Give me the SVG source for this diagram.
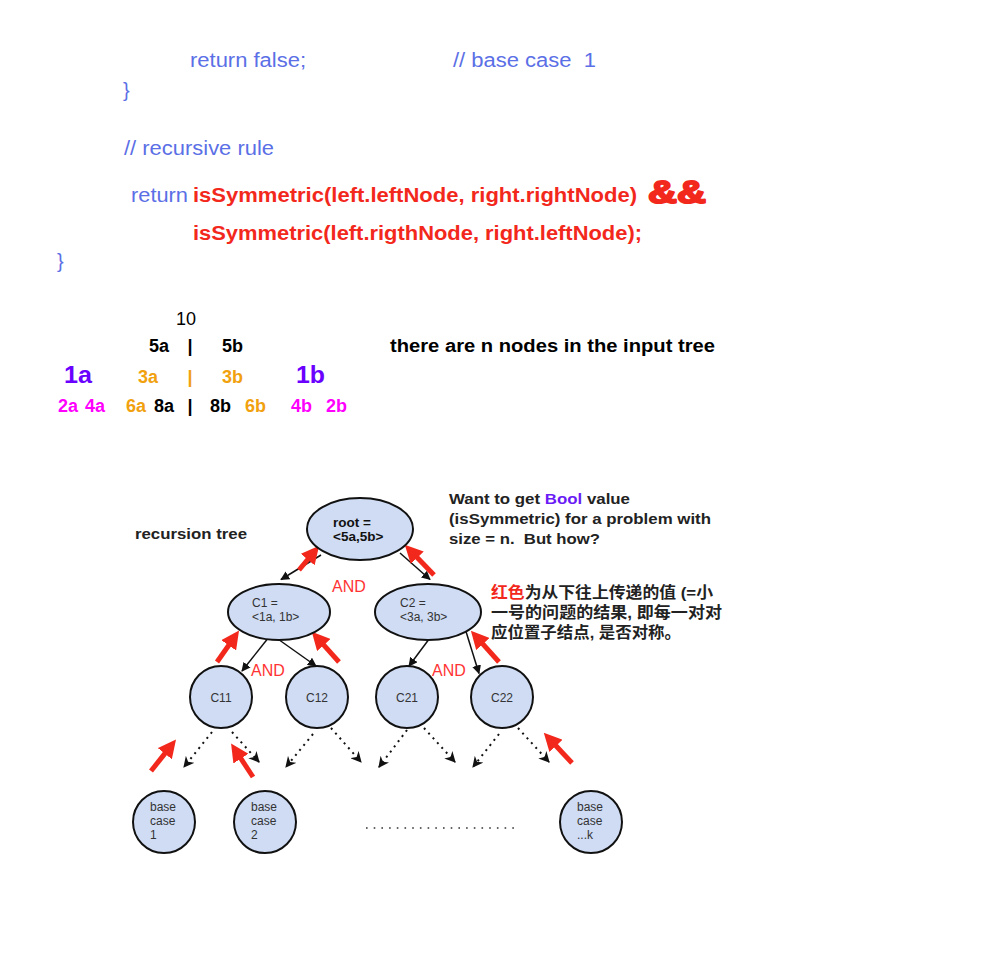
<svg xmlns="http://www.w3.org/2000/svg" width="989" height="956" viewBox="0 0 989 956">
<style>
text{font-family:"Liberation Sans",Arial,"Noto Sans CJK SC",sans-serif}
.code{fill:#5b6fe6;font-size:20px}
.red{fill:#f3281c;font-weight:bold;font-size:20px}
.b{font-weight:bold}
.node{fill:#cfdcf3;stroke:#111;stroke-width:2}
.nt{fill:#333;font-size:12px}
.and{fill:#f33;font-size:16px}
.conn{stroke:#111;stroke-width:1.5;fill:none}
.dot{stroke:#111;stroke-width:2;fill:none;stroke-dasharray:2 4.5}
.ra{stroke:#f3281c;stroke-width:5;fill:none}
</style>
<defs>
<marker id="ah" viewBox="0 0 10 10" refX="9" refY="5" markerWidth="9" markerHeight="9" markerUnits="userSpaceOnUse" orient="auto"><path d="M0,0 L10,5 L0,10 z" fill="#111"/></marker>
<marker id="ahd" viewBox="0 0 10 10" refX="9" refY="5" markerWidth="11" markerHeight="11" markerUnits="userSpaceOnUse" orient="auto"><path d="M0,0 L10,5 L0,10 L3,5 z" fill="#111"/></marker>
<marker id="rh" viewBox="0 0 16 16" refX="2" refY="8" markerWidth="18" markerHeight="18" markerUnits="userSpaceOnUse" orient="auto"><path d="M0,0 L16,8 L0,16 z" fill="#f3281c"/></marker>
</defs>
<rect width="989" height="956" fill="#fff"/>

<g id="code">
<text class="code" x="190" y="67" textLength="116" lengthAdjust="spacingAndGlyphs">return false;</text>
<text class="code" x="453" y="67" xml:space="preserve" textLength="143" lengthAdjust="spacingAndGlyphs">// base case  1</text>
<text class="code" x="123" y="97" font-size="22">}</text>
<text class="code" x="124" y="155" textLength="150" lengthAdjust="spacingAndGlyphs">// recursive rule</text>
<text class="code" x="131" y="202" textLength="57" lengthAdjust="spacingAndGlyphs">return</text>
<text class="red" x="193" y="202" textLength="444" lengthAdjust="spacingAndGlyphs">isSymmetric(left.leftNode, right.rightNode)</text>
<text class="red" x="648" y="203" style="font-size:32px" stroke="#f3281c" stroke-width="2" stroke-linejoin="round" textLength="58" lengthAdjust="spacingAndGlyphs">&amp;&amp;</text>
<text class="red" x="193" y="240" textLength="449" lengthAdjust="spacingAndGlyphs">isSymmetric(left.rigthNode, right.leftNode);</text>
<text class="code" x="57" y="268" font-size="22">}</text>
</g>

<g id="levels">
<text x="176" y="325" font-size="18" fill="#000">10</text>
<text class="b" x="149" y="352" font-size="18" fill="#000">5a</text>
<text class="b" x="190" y="352" font-size="18" fill="#000" text-anchor="middle">|</text>
<text class="b" x="222" y="352" font-size="18" fill="#000">5b</text>
<text class="b" x="390" y="352" font-size="18" fill="#000" textLength="325" lengthAdjust="spacingAndGlyphs">there are n nodes in the input tree</text>
<text class="b" x="64" y="383" font-size="23" fill="#6a00ff" textLength="28" lengthAdjust="spacingAndGlyphs">1a</text>
<text class="b" x="138" y="383" font-size="18" fill="#f1a10e">3a</text>
<text class="b" x="190" y="383" font-size="18" fill="#f1a10e" text-anchor="middle">|</text>
<text class="b" x="222" y="383" font-size="18" fill="#f1a10e">3b</text>
<text class="b" x="296" y="383" font-size="23" fill="#6a00ff" textLength="29" lengthAdjust="spacingAndGlyphs">1b</text>
<text class="b" x="58" y="412" font-size="18" fill="#ff00ff">2a</text>
<text class="b" x="85" y="412" font-size="18" fill="#ff00ff">4a</text>
<text class="b" x="126" y="412" font-size="18" fill="#f1a10e">6a</text>
<text class="b" x="154" y="412" font-size="18" fill="#000">8a</text>
<text class="b" x="190" y="412" font-size="18" fill="#000" text-anchor="middle">|</text>
<text class="b" x="210" y="412" font-size="18" fill="#000">8b</text>
<text class="b" x="245" y="412" font-size="18" fill="#f1a10e">6b</text>
<text class="b" x="291" y="412" font-size="18" fill="#ff00ff">4b</text>
<text class="b" x="326" y="412" font-size="18" fill="#ff00ff">2b</text>
</g>

<g id="notes">
<text class="b" x="135" y="539" font-size="15.5" fill="#222" textLength="112" lengthAdjust="spacingAndGlyphs">recursion tree</text>
<text class="b" x="449" y="504" font-size="15.5" fill="#222" textLength="181" lengthAdjust="spacingAndGlyphs">Want to get <tspan fill="#6a1bf5">Bool</tspan> value</text>
<text class="b" x="449" y="524" font-size="15.5" fill="#222" textLength="262" lengthAdjust="spacingAndGlyphs">(isSymmetric) for a problem with</text>
<text class="b" x="449" y="544" font-size="15.5" fill="#222" xml:space="preserve" textLength="151" lengthAdjust="spacingAndGlyphs">size = n.  But how?</text>
<text class="b" x="491" y="598" font-size="15.5" fill="#222" textLength="222" lengthAdjust="spacingAndGlyphs"><tspan fill="#f3281c">红色</tspan>为从下往上传递的值 (=小</text>
<text class="b" x="491" y="618" font-size="15.5" fill="#222" textLength="231" lengthAdjust="spacingAndGlyphs">一号的问题的结果, 即每一对对</text>
<text class="b" x="491" y="638" font-size="15.5" fill="#222" textLength="190" lengthAdjust="spacingAndGlyphs">应位置子结点, 是否对称。</text>
<text class="and" x="332" y="592">AND</text>
<text class="and" x="251" y="676">AND</text>
<text class="and" x="432" y="676">AND</text>
</g>

<g id="connectors">
<line class="conn" x1="321" y1="555" x2="281" y2="579.5" marker-end="url(#ah)"/>
<line class="conn" x1="400" y1="553" x2="430" y2="579.5" marker-end="url(#ah)"/>
<line class="conn" x1="269" y1="637" x2="242" y2="671" marker-end="url(#ah)"/>
<line class="conn" x1="280" y1="640.5" x2="316" y2="666" marker-end="url(#ah)"/>
<line class="conn" x1="428" y1="640.5" x2="409" y2="666" marker-end="url(#ah)"/>
<line class="conn" x1="466" y1="631.5" x2="479" y2="673.5" marker-end="url(#ah)"/>
<line class="dot" x1="212" y1="732" x2="184" y2="767" marker-end="url(#ahd)"/>
<line class="dot" x1="232" y1="732" x2="259" y2="762" marker-end="url(#ahd)"/>
<line class="dot" x1="313" y1="734" x2="286" y2="767" marker-end="url(#ahd)"/>
<line class="dot" x1="331" y1="728" x2="361" y2="762" marker-end="url(#ahd)"/>
<line class="dot" x1="407" y1="730" x2="379" y2="767" marker-end="url(#ahd)"/>
<line class="dot" x1="424" y1="728" x2="455" y2="762" marker-end="url(#ahd)"/>
<line class="dot" x1="499" y1="734" x2="473" y2="767" marker-end="url(#ahd)"/>
<line class="dot" x1="518" y1="728" x2="549" y2="762" marker-end="url(#ahd)"/>
<line x1="366" y1="828" x2="514" y2="828" stroke="#333" stroke-width="1.6" stroke-dasharray="1.6 6.1"/>
</g>

<g id="return-arrows">
<line class="ra" x1="299" y1="570" x2="309.1" y2="557.8" marker-end="url(#rh)"/>
<line class="ra" x1="434" y1="575" x2="415.7" y2="556.1" marker-end="url(#rh)"/>
<line class="ra" x1="217" y1="662" x2="230" y2="643.5" marker-end="url(#rh)"/>
<line class="ra" x1="339" y1="662" x2="322.3" y2="643.4" marker-end="url(#rh)"/>
<line class="ra" x1="499" y1="662" x2="481.4" y2="642.4" marker-end="url(#rh)"/>
<line class="ra" x1="151" y1="771" x2="166.2" y2="751.9" marker-end="url(#rh)"/>
<line class="ra" x1="253" y1="777" x2="239.7" y2="756.7" marker-end="url(#rh)"/>
<line class="ra" x1="572" y1="763" x2="554.5" y2="744.2" marker-end="url(#rh)"/>
</g>

<g id="root"><ellipse class="node" cx="360" cy="529" rx="53" ry="31"/>
<text class="b" x="333" y="527" font-size="13.5" fill="#111">root =</text>
<text class="b" x="333" y="541" font-size="13.5" fill="#111">&lt;5a,5b&gt;</text></g>
<g id="C1"><ellipse class="node" cx="279" cy="612" rx="51" ry="28"/>
<text class="nt" x="252" y="607">C1 =</text>
<text class="nt" x="252" y="621">&lt;1a, 1b&gt;</text></g>
<g id="C2"><ellipse class="node" cx="428" cy="612" rx="53" ry="28"/>
<text class="nt" x="400" y="607">C2 =</text>
<text class="nt" x="400" y="621">&lt;3a, 3b&gt;</text></g>
<g id="C11"><circle class="node" cx="221" cy="697" r="31"/><text class="nt" x="221" y="702" text-anchor="middle" font-size="13">C11</text></g>
<g id="C12"><circle class="node" cx="317" cy="697" r="31"/><text class="nt" x="317" y="702" text-anchor="middle" font-size="13">C12</text></g>
<g id="C21"><circle class="node" cx="407" cy="697" r="31"/><text class="nt" x="407" y="702" text-anchor="middle" font-size="13">C21</text></g>
<g id="C22"><circle class="node" cx="502" cy="697" r="31"/><text class="nt" x="502" y="702" text-anchor="middle" font-size="13">C22</text></g>
<g id="base1"><circle class="node" cx="164" cy="822" r="31"/>
<text class="nt" x="150" y="811">base</text><text class="nt" x="150" y="825">case</text><text class="nt" x="150" y="839">1</text></g>
<g id="base2"><circle class="node" cx="265" cy="822" r="31"/>
<text class="nt" x="251" y="811">base</text><text class="nt" x="251" y="825">case</text><text class="nt" x="251" y="839">2</text></g>
<g id="basek"><circle class="node" cx="591" cy="822" r="31"/>
<text class="nt" x="577" y="811">base</text><text class="nt" x="577" y="825">case</text><text class="nt" x="577" y="839">...k</text></g>
</svg>
